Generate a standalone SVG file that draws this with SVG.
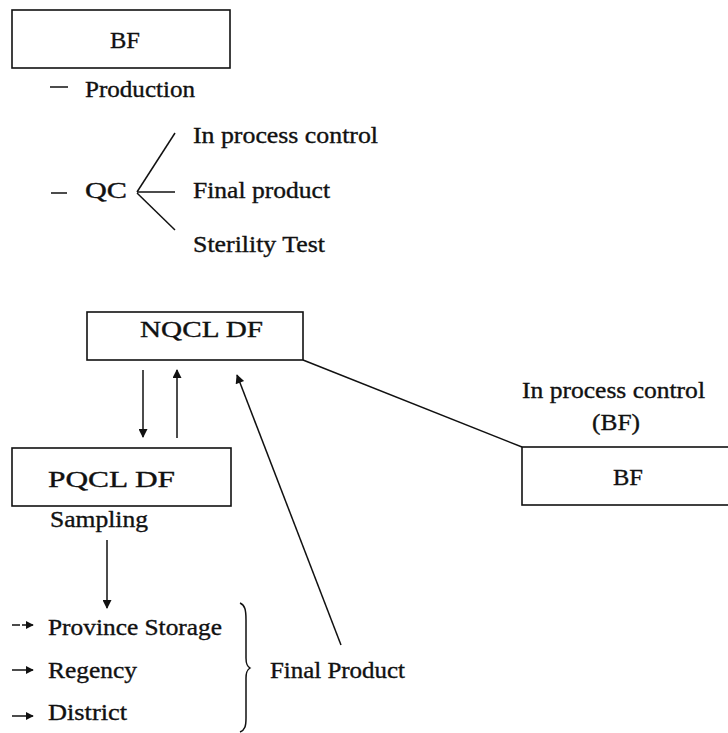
<svg xmlns="http://www.w3.org/2000/svg" width="728" height="733" viewBox="0 0 728 733">
  <style>
    .box { fill: #fff; stroke: #111; stroke-width: 1.6; }
    .t { font-family: "Liberation Serif", "Times New Roman", serif; font-size: 23px; fill: #111; stroke: #111; stroke-width: 0.35; }
    .ln { stroke: #111; stroke-width: 1.5; fill: none; }
  </style>
  <defs>
    <marker id="ahBig" viewBox="0 0 10 10" refX="9" refY="5" markerWidth="13" markerHeight="9" markerUnits="userSpaceOnUse" orient="auto">
      <path d="M0,0 L10,5 L0,10 Z" fill="#111"/>
    </marker>
    <marker id="ahSmall" viewBox="0 0 10 10" refX="9" refY="5" markerWidth="8" markerHeight="8" markerUnits="userSpaceOnUse" orient="auto">
      <path d="M0,0 L10,5 L0,10 Z" fill="#111"/>
    </marker>
  </defs>

  <g id="node-bf-top">
    <rect class="box" x="12" y="10" width="218" height="58"/>
    <text class="t" x="110" y="48" textLength="30" lengthAdjust="spacingAndGlyphs">BF</text>
  </g>

  <g id="node-production">
    <line class="ln" x1="50" y1="87" x2="68" y2="87"/>
    <text class="t" x="85" y="97" textLength="110" lengthAdjust="spacingAndGlyphs">Production</text>
  </g>

  <g id="node-qc">
    <line class="ln" x1="51" y1="193" x2="67" y2="193"/>
    <text class="t" x="85" y="198" textLength="42" lengthAdjust="spacingAndGlyphs">QC</text>
  </g>

  <g id="node-qc-items">
    <text class="t" x="193" y="143" textLength="185" lengthAdjust="spacingAndGlyphs">In process control</text>
    <text class="t" x="193" y="198" textLength="137" lengthAdjust="spacingAndGlyphs">Final product</text>
    <text class="t" x="193" y="252" textLength="132" lengthAdjust="spacingAndGlyphs">Sterility Test</text>
  </g>

  <g id="node-nqcl">
    <rect class="box" x="87" y="312" width="216" height="48"/>
    <text class="t" x="140" y="337" textLength="123" lengthAdjust="spacingAndGlyphs">NQCL DF</text>
  </g>

  <g id="node-pqcl">
    <rect class="box" x="12" y="448" width="219" height="58"/>
    <text class="t" x="48" y="487" textLength="127" lengthAdjust="spacingAndGlyphs">PQCL DF</text>
  </g>

  <g id="node-bf-right">
    <text class="t" x="522" y="398" textLength="183" lengthAdjust="spacingAndGlyphs">In process control</text>
    <text class="t" x="592" y="430" textLength="48" lengthAdjust="spacingAndGlyphs">(BF)</text>
    <rect class="box" x="522" y="447" width="220" height="58"/>
    <text class="t" x="613" y="485" textLength="30" lengthAdjust="spacingAndGlyphs">BF</text>
  </g>

  <g id="node-sampling">
    <text class="t" x="50" y="527" textLength="98" lengthAdjust="spacingAndGlyphs">Sampling</text>
  </g>

  <g id="node-destinations">
    <text class="t" x="48" y="635" textLength="174" lengthAdjust="spacingAndGlyphs">Province Storage</text>
    <text class="t" x="48" y="678" textLength="89" lengthAdjust="spacingAndGlyphs">Regency</text>
    <text class="t" x="48" y="720" textLength="79" lengthAdjust="spacingAndGlyphs">District</text>
    <!-- curly brace grouping the three destinations -->
    <path class="ln" stroke-width="1.3" d="M240,603 C245,605 246,610 246,620 L246,658 C246,664 247,666 250,668 C247,670 246,672 246,678 L246,718 C246,726 245,730 240,732"/>
  </g>

  <g id="node-final-product">
    <text class="t" x="270" y="678" textLength="135" lengthAdjust="spacingAndGlyphs">Final Product</text>
  </g>

  <g id="connectors">
    <!-- QC fan-out -->
    <line class="ln" x1="137" y1="192" x2="175" y2="133"/>
    <line class="ln" x1="137" y1="192" x2="175" y2="192"/>
    <line class="ln" x1="137" y1="193" x2="175" y2="230"/>
    <!-- NQCL <-> PQCL -->
    <line class="ln" x1="143" y1="370" x2="143" y2="437" marker-end="url(#ahBig)"/>
    <line class="ln" x1="177" y1="438" x2="177" y2="370" marker-end="url(#ahBig)"/>
    <!-- Final product back to NQCL -->
    <line class="ln" x1="341" y1="645" x2="237" y2="375" marker-end="url(#ahBig)"/>
    <!-- NQCL to field BF -->
    <line class="ln" x1="303" y1="360" x2="522" y2="447"/>
    <!-- Sampling down -->
    <line class="ln" x1="107" y1="540" x2="107" y2="608" marker-end="url(#ahBig)"/>
    <!-- destination bullets -->
    <line class="ln" x1="12" y1="625" x2="33" y2="625" stroke-dasharray="8 2" marker-end="url(#ahSmall)"/>
    <line class="ln" x1="12" y1="670" x2="33" y2="670" marker-end="url(#ahSmall)"/>
    <line class="ln" x1="12" y1="716" x2="33" y2="716" marker-end="url(#ahSmall)"/>
  </g>
</svg>
